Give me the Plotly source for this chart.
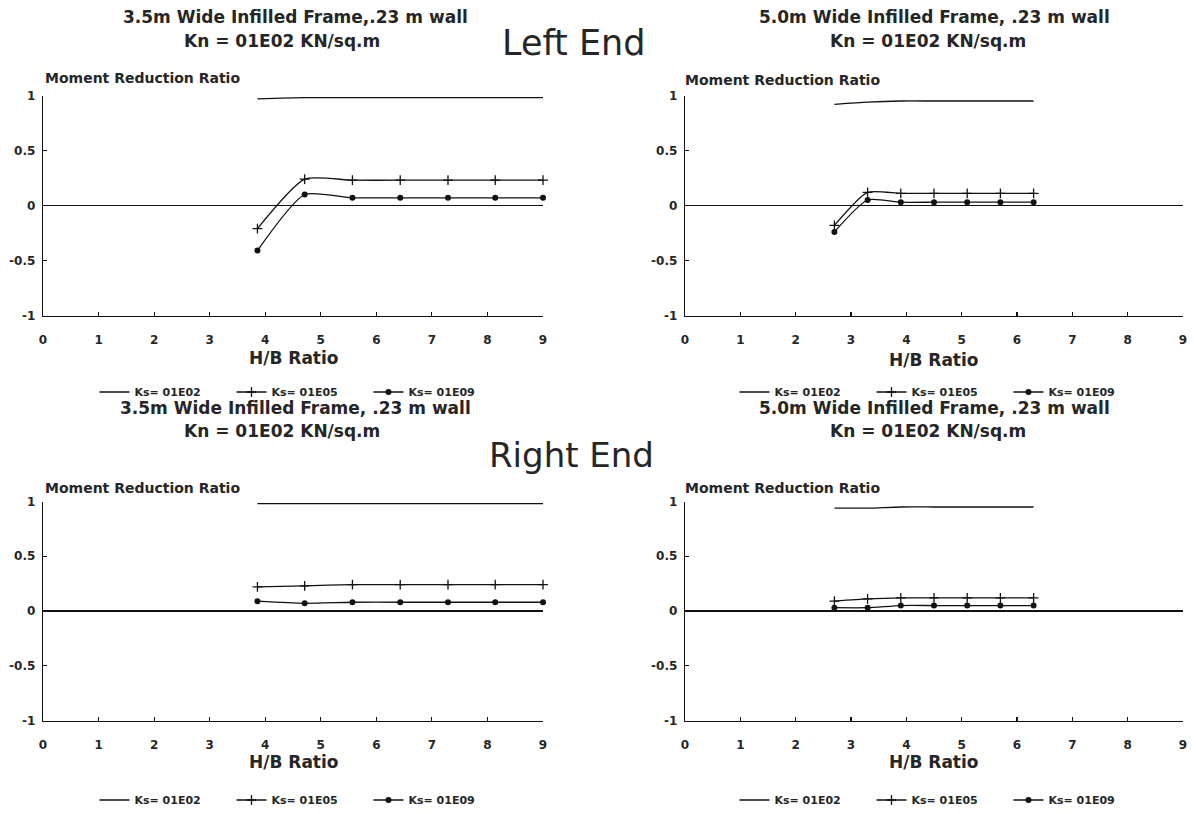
import plotly.graph_objects as go

# ---------------- data ----------------
hb_35 = [3.86, 4.71, 5.57, 6.43, 7.29, 8.14, 9.0]
hb_50 = [2.7, 3.3, 3.9, 4.5, 5.1, 5.7, 6.3]

series_names = ["Ks= 01E02", "Ks= 01E05", "Ks= 01E09"]

left_35_e02 = [0.97, 0.98, 0.98, 0.98, 0.98, 0.98, 0.98]
left_35_e05 = [-0.21, 0.24, 0.23, 0.23, 0.23, 0.23, 0.23]
left_35_e09 = [-0.41, 0.10, 0.07, 0.07, 0.07, 0.07, 0.07]

left_50_e02 = [0.92, 0.94, 0.95, 0.95, 0.95, 0.95, 0.95]
left_50_e05 = [-0.18, 0.12, 0.11, 0.11, 0.11, 0.11, 0.11]
left_50_e09 = [-0.24, 0.05, 0.03, 0.03, 0.03, 0.03, 0.03]

right_35_e02 = [0.98, 0.98, 0.98, 0.98, 0.98, 0.98, 0.98]
right_35_e05 = [0.22, 0.23, 0.24, 0.24, 0.24, 0.24, 0.24]
right_35_e09 = [0.09, 0.07, 0.08, 0.08, 0.08, 0.08, 0.08]

right_50_e02 = [0.94, 0.94, 0.95, 0.95, 0.95, 0.95, 0.95]
right_50_e05 = [0.09, 0.11, 0.12, 0.12, 0.12, 0.12, 0.12]
right_50_e09 = [0.03, 0.03, 0.05, 0.05, 0.05, 0.05, 0.05]

x_ticks = [0, 1, 2, 3, 4, 5, 6, 7, 8, 9]
y_ticks = [-1, -0.5, 0, 0.5, 1]
y_tick_text = ["-1", "-0.5", "0", "0.5", "1"]

title_35_a = "3.5m Wide Infilled Frame,.23 m wall"
title_35_b = "3.5m Wide Infilled Frame, .23 m wall"
title_50 = "5.0m Wide Infilled Frame, .23 m wall"
title_kn = "Kn = 01E02 KN/sq.m"

# ---------------- figure ----------------
W, H = 1196, 814
FONT = "DejaVu Sans"
TXT = "#262626"
LINE = "#111111"

fig = go.Figure()

panels = [
    ("x", "y", "legend", hb_35, [left_35_e02, left_35_e05, left_35_e09]),
    ("x2", "y2", "legend2", hb_50, [left_50_e02, left_50_e05, left_50_e09]),
    ("x3", "y3", "legend3", hb_35, [right_35_e02, right_35_e05, right_35_e09]),
    ("x4", "y4", "legend4", hb_50, [right_50_e02, right_50_e05, right_50_e09]),
]

styles = [
    dict(mode="lines", marker=None),
    dict(mode="lines+markers",
         marker=dict(symbol="cross-thin", size=7, color=LINE,
                     line=dict(width=1.3, color=LINE))),
    dict(mode="lines+markers",
         marker=dict(symbol="circle", size=6, color=LINE)),
]

for xa, ya, lg, xs, ys_list in panels:
    for name, ys, st in zip(series_names, ys_list, styles):
        kw = dict(x=xs, y=ys, name=name, xaxis=xa, yaxis=ya, legend=lg,
                  mode=st["mode"], cliponaxis=False, hoverinfo="skip",
                  line=dict(color=LINE, width=1.3, shape="spline", smoothing=0.6))
        if st["marker"] is not None:
            kw["marker"] = st["marker"]
        fig.add_trace(go.Scatter(**kw))


def px_x(p):
    return p / W


def px_y(p):
    return 1 - p / H


left_dom = [px_x(43), px_x(543)]
right_dom = [px_x(685), px_x(1183)]
top_dom = [px_y(315.5), px_y(95.5)]
bot_dom = [px_y(720.5), px_y(501.5)]

tick_font = dict(family=FONT, size=12, color=TXT, weight="bold")


def xaxis_cfg(dom, anchor):
    return dict(domain=dom, anchor=anchor, range=[0, 9], tickvals=x_ticks,
                ticks="inside", ticklen=4, tickwidth=1.2, tickcolor=LINE,
                showline=True, linecolor=LINE, linewidth=1.3,
                showgrid=False, zeroline=False, tickfont=tick_font,
                ticklabelstandoff=13, automargin=False, fixedrange=True)


def yaxis_cfg(dom, anchor):
    return dict(domain=dom, anchor=anchor, range=[-1, 1], tickvals=y_ticks,
                ticktext=y_tick_text, ticks="inside", ticklen=4, tickwidth=1.2,
                tickcolor=LINE, showline=True, linecolor=LINE, linewidth=1.3,
                showgrid=False, zeroline=True, zerolinecolor=LINE,
                zerolinewidth=1.2, tickfont=tick_font, ticklabelstandoff=4,
                automargin=False, fixedrange=True)


def legend_cfg(cx, cy):
    return dict(orientation="h", x=cx, y=cy, xanchor="center", yanchor="middle",
                font=dict(family=FONT, size=11, color=TXT, weight="bold"),
                bgcolor="rgba(0,0,0,0)", entrywidth=92, entrywidthmode="pixels",
                tracegroupgap=0)


fig.update_layout(
    width=W, height=H,
    margin=dict(l=0, r=0, t=0, b=0, autoexpand=False),
    paper_bgcolor="white", plot_bgcolor="white",
    font=dict(family=FONT, color=TXT),
    hovermode=False,
    xaxis=xaxis_cfg(left_dom, "y"),
    yaxis=yaxis_cfg(top_dom, "x"),
    xaxis2=xaxis_cfg(right_dom, "y2"),
    yaxis2=yaxis_cfg(top_dom, "x2"),
    xaxis3=xaxis_cfg(left_dom, "y3"),
    yaxis3=yaxis_cfg(bot_dom, "x3"),
    xaxis4=xaxis_cfg(right_dom, "y4"),
    yaxis4=yaxis_cfg(bot_dom, "x4"),
    legend=legend_cfg(px_x(300), px_y(392)),
    legend2=legend_cfg(px_x(940), px_y(392)),
    legend3=legend_cfg(px_x(300), px_y(800)),
    legend4=legend_cfg(px_x(940), px_y(800)),
    showlegend=True,
)

ann = []


def add_text(text, x, y, size, bold=True, xanchor="center"):
    ann.append(dict(text=text, x=px_x(x), y=px_y(y), xref="paper", yref="paper",
                    xanchor=xanchor, yanchor="middle", showarrow=False,
                    font=dict(family=FONT, size=size, color=TXT,
                              weight="bold" if bold else "normal")))


# panel titles
add_text(title_35_a, 295, 17, 17)
add_text(title_kn, 282, 41, 17)
add_text(title_50, 934, 17, 17)
add_text(title_kn, 928, 41, 17)
add_text(title_35_b, 295, 408, 17)
add_text(title_kn, 282, 431, 17)
add_text(title_50, 934, 408, 17)
add_text(title_kn, 928, 431, 17)

# big labels
add_text("Left End", 574, 43, 35, bold=False)
add_text("Right End", 571, 455, 34, bold=False)

# y-axis titles
add_text("Moment Reduction Ratio", 43, 78, 14, xanchor="left")
add_text("Moment Reduction Ratio", 683, 80, 14, xanchor="left")
add_text("Moment Reduction Ratio", 43, 488, 14, xanchor="left")
add_text("Moment Reduction Ratio", 683, 488, 14, xanchor="left")

# x-axis titles
add_text("H/B Ratio", 294, 358, 17)
add_text("H/B Ratio", 934, 360, 17)
add_text("H/B Ratio", 294, 762, 17)
add_text("H/B Ratio", 934, 762, 17)

fig.update_layout(annotations=ann)

fig.write_html("out.html",
               config={"displayModeBar": False, "staticPlot": True},
               post_script="document.body.style.margin='0';document.body.style.overflow='hidden';")
